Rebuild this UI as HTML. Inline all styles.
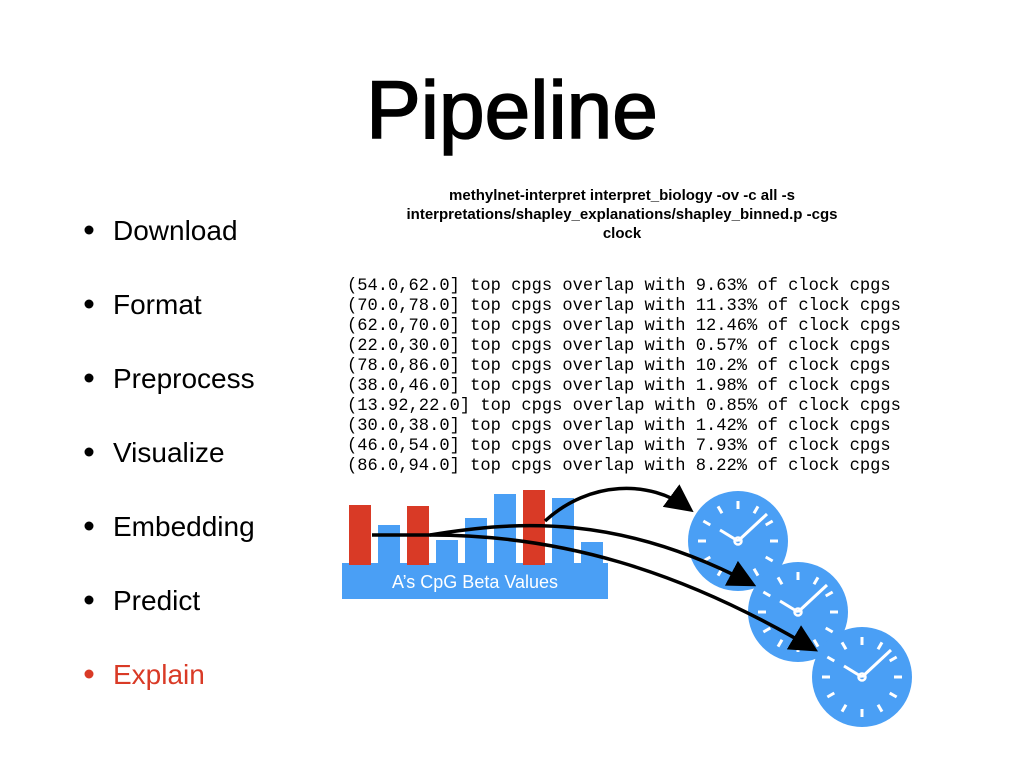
<!DOCTYPE html>
<html><head><meta charset="utf-8"><style>
html,body{margin:0;padding:0;background:#fff}
svg{display:block}
</style></head><body>
<svg width="1024" height="768" viewBox="0 0 1024 768" xmlns="http://www.w3.org/2000/svg">
<defs>
<g id="clock">
<circle cx="0" cy="0" r="50" fill="#4a9ff5"/>
<g stroke="#fff" stroke-width="3" stroke-linecap="butt">
<line x1="0" y1="-32" x2="0" y2="-40"/>
<line x1="0" y1="-32" x2="0" y2="-40" transform="rotate(30)"/>
<line x1="0" y1="-32" x2="0" y2="-40" transform="rotate(60)"/>
<line x1="0" y1="-32" x2="0" y2="-40" transform="rotate(90)"/>
<line x1="0" y1="-32" x2="0" y2="-40" transform="rotate(120)"/>
<line x1="0" y1="-32" x2="0" y2="-40" transform="rotate(150)"/>
<line x1="0" y1="-32" x2="0" y2="-40" transform="rotate(180)"/>
<line x1="0" y1="-32" x2="0" y2="-40" transform="rotate(210)"/>
<line x1="0" y1="-32" x2="0" y2="-40" transform="rotate(240)"/>
<line x1="0" y1="-32" x2="0" y2="-40" transform="rotate(270)"/>
<line x1="0" y1="-32" x2="0" y2="-40" transform="rotate(300)"/>
<line x1="0" y1="-32" x2="0" y2="-40" transform="rotate(330)"/>
<line x1="0" y1="0" x2="-18" y2="-11"/>
<line x1="0" y1="0" x2="29" y2="-27"/>
</g>
<circle cx="0" cy="0" r="3.5" fill="none" stroke="#fff" stroke-width="2.5"/>
</g>
<marker id="ah" markerWidth="8" markerHeight="8" refX="6" refY="4" orient="auto" markerUnits="strokeWidth">
<path d="M0,0 L8,4 L0,8 z" fill="#000"/>
</marker>
</defs>

<text x="512" y="138" text-anchor="middle" font-family="Liberation Sans, sans-serif" font-size="82" fill="#000" stroke="#000" stroke-width="1.6">Pipeline</text>

<g font-family="Liberation Sans, sans-serif" font-size="28" fill="#000">
<circle cx="89" cy="230" r="4.5"/><text x="113" y="240">Download</text>
<circle cx="89" cy="304" r="4.5"/><text x="113" y="314">Format</text>
<circle cx="89" cy="378" r="4.5"/><text x="113" y="388">Preprocess</text>
<circle cx="89" cy="452" r="4.5"/><text x="113" y="462">Visualize</text>
<circle cx="89" cy="526" r="4.5"/><text x="113" y="536">Embedding</text>
<circle cx="89" cy="600" r="4.5"/><text x="113" y="610">Predict</text>
<circle cx="89" cy="674" r="4.5" fill="#d93a26"/><text x="113" y="684" fill="#d93a26">Explain</text>
</g>

<g font-family="Liberation Sans, sans-serif" font-size="15" font-weight="bold" text-anchor="middle" fill="#000">
<text x="622" y="200">methylnet-interpret interpret_biology -ov -c all -s</text>
<text x="622" y="219">interpretations/shapley_explanations/shapley_binned.p -cgs</text>
<text x="622" y="238">clock</text>
</g>

<g font-family="Liberation Mono, DejaVu Sans Mono, monospace" font-size="17.1" fill="#000" xml:space="preserve">
<text x="347" y="290">(54.0,62.0] top cpgs overlap with 9.63% of clock cpgs</text>
<text x="347" y="310">(70.0,78.0] top cpgs overlap with 11.33% of clock cpgs</text>
<text x="347" y="330">(62.0,70.0] top cpgs overlap with 12.46% of clock cpgs</text>
<text x="347" y="350">(22.0,30.0] top cpgs overlap with 0.57% of clock cpgs</text>
<text x="347" y="370">(78.0,86.0] top cpgs overlap with 10.2% of clock cpgs</text>
<text x="347" y="390">(38.0,46.0] top cpgs overlap with 1.98% of clock cpgs</text>
<text x="347" y="410">(13.92,22.0] top cpgs overlap with 0.85% of clock cpgs</text>
<text x="347" y="430">(30.0,38.0] top cpgs overlap with 1.42% of clock cpgs</text>
<text x="347" y="450">(46.0,54.0] top cpgs overlap with 7.93% of clock cpgs</text>
<text x="347" y="470">(86.0,94.0] top cpgs overlap with 8.22% of clock cpgs</text>
</g>

<rect x="342" y="563" width="266" height="36" fill="#4a9ff5"/>
<rect x="349" y="505" width="22" height="60" fill="#d93a26"/>
<rect x="378" y="525" width="22" height="40" fill="#4a9ff5"/>
<rect x="407" y="506" width="22" height="59" fill="#d93a26"/>
<rect x="436" y="540" width="22" height="25" fill="#4a9ff5"/>
<rect x="465" y="518" width="22" height="47" fill="#4a9ff5"/>
<rect x="494" y="494" width="22" height="71" fill="#4a9ff5"/>
<rect x="523" y="490" width="22" height="75" fill="#d93a26"/>
<rect x="552" y="498" width="22" height="67" fill="#4a9ff5"/>
<rect x="581" y="542" width="22" height="23" fill="#4a9ff5"/>
<text x="475" y="588" text-anchor="middle" font-family="Liberation Sans, sans-serif" font-size="18" fill="#fff">A’s CpG Beta Values</text>

<use href="#clock" transform="translate(738,541)"/>
<use href="#clock" transform="translate(798,612)"/>
<use href="#clock" transform="translate(862,677)"/>

<g fill="none" stroke="#000" stroke-width="3.5">
<path d="M545,521 C590,480 650,480 688,508" marker-end="url(#ah)"/>
<path d="M372,535 L430,535 C520,520 620,515 750,583" marker-end="url(#ah)"/>
<path d="M430,535 C560,535 680,570 812,648" marker-end="url(#ah)"/>
</g>
</svg>
</body></html>
